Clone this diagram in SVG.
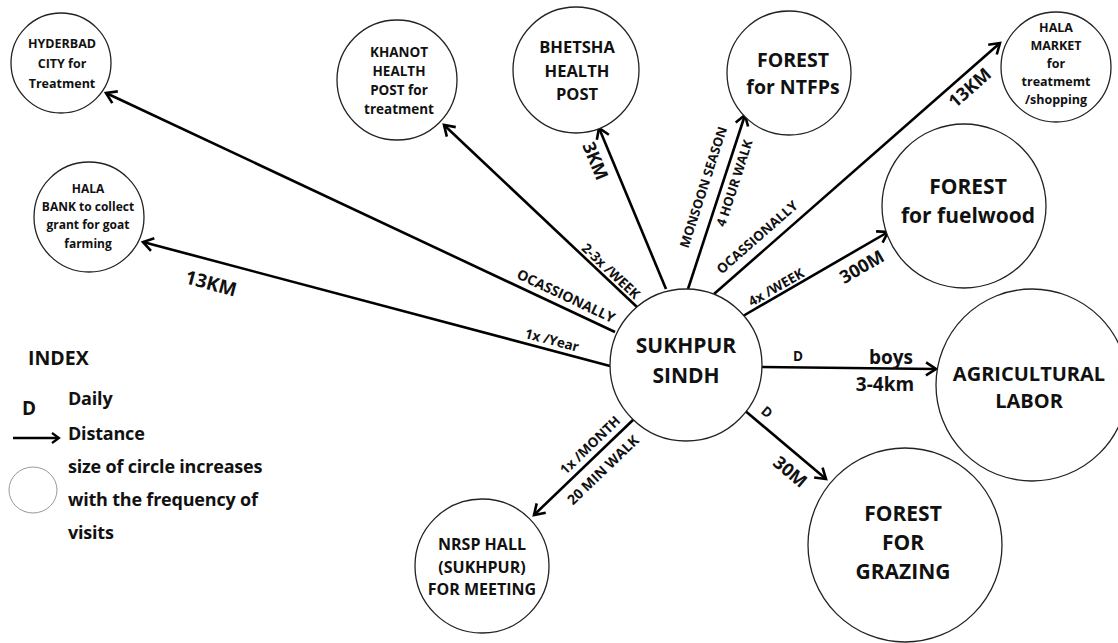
<svg xmlns="http://www.w3.org/2000/svg" width="1118" height="643" viewBox="0 0 1118 643">
<defs>
<marker id="arr" markerUnits="userSpaceOnUse" markerWidth="24" markerHeight="24" viewBox="-14 -12 18 24" refX="0" refY="0" orient="auto">
<path d="M-10,-6.5 L0,0 L-10,6.5" fill="none" stroke="#000" stroke-width="2.6"/>
</marker>
<style>
text{font-family:"Open Sans","DejaVu Sans",sans-serif;font-weight:700;fill:#111;}
.node circle{fill:#fff;stroke:#222;stroke-width:1.3;}
.node text{text-anchor:middle;}
.lbl{text-anchor:middle;font-size:13.5px;}
.big{text-anchor:middle;font-size:18px;}
.leg{font-weight:700;font-size:18px;letter-spacing:-0.2px;}
#connectors line{stroke:#000;stroke-width:2.6;fill:none;}
</style>
</defs>
<rect width="1118" height="643" fill="#fff"/>

<g id="connectors">
<line x1="615" y1="332" x2="106" y2="93" marker-end="url(#arr)"/>
<line x1="610" y1="366" x2="143" y2="242" marker-end="url(#arr)"/>
<line x1="637" y1="307" x2="444" y2="125" marker-end="url(#arr)"/>
<line x1="666" y1="289" x2="599" y2="128" marker-end="url(#arr)"/>
<line x1="688" y1="289" x2="745" y2="115" marker-end="url(#arr)"/>
<line x1="714" y1="294" x2="1000" y2="43" marker-end="url(#arr)"/>
<line x1="743" y1="316" x2="888" y2="232" marker-end="url(#arr)"/>
<line x1="762" y1="367" x2="936" y2="369" marker-end="url(#arr)"/>
<line x1="743" y1="409" x2="826" y2="479" marker-end="url(#arr)"/>
<line x1="634" y1="419" x2="534" y2="515" marker-end="url(#arr)"/>

<text class="lbl" style="font-size:14px" transform="translate(566,296) rotate(25.2)" y="5">OCASSIONALLY</text>
<text class="big" style="font-size:19px" transform="translate(211,283) rotate(14.9)" y="7">13KM</text>
<text class="lbl" transform="translate(552,340) rotate(14.9)" y="5">1x /Year</text>
<text class="lbl" transform="translate(611,271) rotate(43.3)" y="5">2-3x /WEEK</text>
<text class="big" transform="translate(595,161) rotate(67.4)" y="6">3KM</text>
<text class="lbl" style="font-size:13px" transform="translate(703,187) rotate(-72)" y="5">MONSOON SEASON</text>
<text class="lbl" style="font-size:13px" transform="translate(734,183) rotate(-72)" y="5">4 HOUR WALK</text>
<text class="lbl" transform="translate(757,237) rotate(-41.3)" y="5">OCASSIONALLY</text>
<text class="big" transform="translate(970,88) rotate(-41.3)" y="6">13KM</text>
<text class="lbl" transform="translate(776,287) rotate(-30)" y="5">4x /WEEK</text>
<text class="big" transform="translate(862,267) rotate(-30)" y="6">300M</text>
<text class="lbl" x="798" y="361">D</text>
<text class="big" style="font-size:19px" x="891" y="364">boys</text>
<text class="big" style="font-size:19px" x="885" y="391">3-4km</text>
<text class="lbl" transform="translate(767,412) rotate(40)" y="5">D</text>
<text class="big" transform="translate(790,472) rotate(40)" y="6">30M</text>
<text class="lbl" transform="translate(590,445) rotate(-43.8)" y="5">1x /MONTH</text>
<text class="lbl" style="font-size:14px" transform="translate(603,470) rotate(-43.8)" y="5">20 MIN WALK</text>
</g>

<g id="sukhpur" class="node">
<circle cx="686" cy="365" r="76"/>
<text x="686" y="353" font-size="21">SUKHPUR</text>
<text x="686" y="383" font-size="21">SINDH</text>
</g>

<g id="hyderbad" class="node">
<circle cx="61" cy="63" r="50"/>
<text x="62" y="48" font-size="12.5">HYDERBAD</text>
<text x="62" y="68" font-size="12.5">CITY for</text>
<text x="62" y="88" font-size="12.5">Treatment</text>
</g>

<g id="hala-bank" class="node">
<circle cx="89" cy="217" r="55"/>
<text x="88" y="193" font-size="12">HALA</text>
<text x="88" y="211" font-size="12">BANK to collect</text>
<text x="88" y="229" font-size="12">grant for goat</text>
<text x="88" y="248" font-size="12">farming</text>
</g>

<g id="khanot" class="node">
<circle cx="397" cy="80" r="60"/>
<text x="399" y="57" font-size="13.5">KHANOT</text>
<text x="399" y="76" font-size="13.5">HEALTH</text>
<text x="399" y="95" font-size="13.5">POST for</text>
<text x="399" y="114" font-size="13.5">treatment</text>
</g>

<g id="bhetsha" class="node">
<circle cx="576" cy="70" r="63"/>
<text x="577" y="53" font-size="16.5">BHETSHA</text>
<text x="577" y="77" font-size="16.5">HEALTH</text>
<text x="577" y="100" font-size="16.5">POST</text>
</g>

<g id="forest-ntfps" class="node">
<circle cx="789" cy="73" r="62"/>
<text x="793" y="67" font-size="19.5">FOREST</text>
<text x="793" y="94" font-size="19.5">for NTFPs</text>
</g>

<g id="hala-market" class="node">
<circle cx="1056" cy="67" r="55"/>
<text x="1056" y="32" font-size="12.5">HALA</text>
<text x="1056" y="50" font-size="12.5">MARKET</text>
<text x="1056" y="68" font-size="12.5">for</text>
<text x="1056" y="86" font-size="12.5">treatmemt</text>
<text x="1056" y="104" font-size="12.5">/shopping</text>
</g>

<g id="forest-fuelwood" class="node">
<circle cx="964" cy="206" r="82"/>
<text x="968" y="194" font-size="21">FOREST</text>
<text x="968" y="223" font-size="21">for fuelwood</text>
</g>

<g id="agricultural-labor" class="node">
<circle cx="1032" cy="385" r="96"/>
<text x="1029" y="381" font-size="20">AGRICULTURAL</text>
<text x="1029" y="408" font-size="20">LABOR</text>
</g>

<g id="forest-grazing" class="node">
<circle cx="905" cy="545" r="97"/>
<text x="903" y="521" font-size="21">FOREST</text>
<text x="903" y="550" font-size="21">FOR</text>
<text x="903" y="579" font-size="21">GRAZING</text>
</g>

<g id="nrsp-hall" class="node">
<circle cx="482" cy="566" r="67"/>
<text x="482" y="550" font-size="16">NRSP HALL</text>
<text x="482" y="573" font-size="16">(SUKHPUR)</text>
<text x="482" y="595" font-size="16">FOR MEETING</text>
</g>

<g id="legend">
<text class="leg" x="28" y="365" style="font-size:19.5px;letter-spacing:0">INDEX</text>
<text class="leg" x="22" y="415" style="font-size:19px;letter-spacing:0">D</text>
<text class="leg" x="68" y="405">Daily</text>
<line x1="13" y1="438" x2="58" y2="438" stroke="#000" stroke-width="2.4"/>
<path d="M52,433 L59,438 L52,443" fill="none" stroke="#000" stroke-width="2.2"/>
<text class="leg" x="68" y="440">Distance</text>
<ellipse cx="33" cy="490" rx="24" ry="23" fill="none" stroke="#999" stroke-width="1"/>
<text class="leg" x="68" y="473">size of circle increases</text>
<text class="leg" x="68" y="506">with the frequency of</text>
<text class="leg" x="68" y="539">visits</text>
</g>
</svg>
